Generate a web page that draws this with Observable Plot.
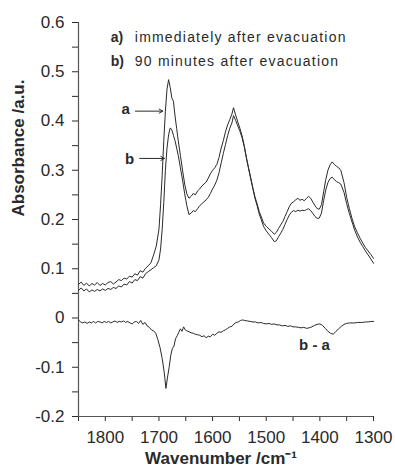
<!DOCTYPE html>
<html><head><meta charset="utf-8">
<script src="https://cdn.jsdelivr.net/npm/d3@7"></script>
<script src="https://cdn.jsdelivr.net/npm/@observablehq/plot@0.6"></script>
<style>
body{margin:0;background:#fff;}
#chart{width:395px;height:471px;}
</style></head><body><div id="chart"></div>
<script>
// Wavenumber grid for spectra a and b (cm^-1)
const wn = [
 1850,1845,1840,1835,1830,1825,1820,1815,1810,1805,1800,1795,1790,1785,1780,1775,1770,1765,1760,1755,1750,1745,1740,1735,1730,1725,1720,1715,1710,1705,1700,
 1697,1694,1691,1688,1685,1682,1679,1676,1673,1670,1667,1664,
 1660,1656,1652,1648,1644,1640,1636,1632,1628,1624,1620,1616,1612,1608,1604,1600,1596,1592,1588,1584,1580,1576,1572,1568,1564,
 1561,1557,1553,1549,1545,1541,1537,1533,1529,1525,1521,1517,1513,1509,1505,
 1500,1495,1490,1485,
 1481,1477,1473,1469,1465,1461,1457,1453,1449,1445,1441,1437,1433,1429,1425,1421,1417,1413,1409,1405,1401,1397,1393,1389,1385,1381,1377,1373,1369,1365,
 1361,1355,1350,1345,1340,1335,1330,1325,1320,1315,1310,1305,1300
];
// a) immediately after evacuation
const specA = [
 0.068,0.073,0.066,0.071,0.065,0.070,0.067,0.072,0.066,0.070,0.067,0.072,0.074,0.069,0.073,0.078,0.076,0.081,0.079,0.085,0.083,0.090,0.087,0.096,0.093,0.101,0.106,0.112,0.128,0.146,0.180,
 0.230,0.290,0.360,0.420,0.465,0.484,0.468,0.447,0.440,0.410,0.385,0.360,
 0.330,0.300,0.272,0.252,0.243,0.247,0.253,0.250,0.258,0.262,0.268,0.272,0.276,0.284,0.293,0.300,0.305,0.312,0.326,0.345,0.360,0.378,0.392,0.403,0.414,
 0.427,0.412,0.398,0.385,0.370,0.350,0.326,0.305,0.285,0.265,0.246,0.232,0.216,0.205,0.193,
 0.186,0.181,0.176,0.170,
 0.174,0.182,0.189,0.196,0.206,0.216,0.226,0.233,0.236,0.240,0.243,0.239,0.241,0.238,0.243,0.247,0.243,0.235,0.228,0.222,0.221,0.230,0.256,0.281,0.300,0.311,0.317,0.312,0.308,0.305,
 0.300,0.275,0.245,0.222,0.202,0.185,0.173,0.162,0.152,0.143,0.136,0.129,0.121
];
// b) 90 minutes after evacuation
const specB = [
 0.056,0.061,0.055,0.059,0.053,0.057,0.054,0.058,0.055,0.059,0.056,0.060,0.058,0.062,0.060,0.065,0.063,0.069,0.067,0.074,0.071,0.078,0.076,0.084,0.081,0.090,0.094,0.098,0.102,0.106,0.118,
 0.140,0.180,0.235,0.300,0.345,0.372,0.386,0.382,0.371,0.360,0.345,0.330,
 0.305,0.280,0.252,0.228,0.210,0.213,0.218,0.216,0.222,0.228,0.232,0.236,0.240,0.245,0.253,0.262,0.270,0.280,0.295,0.315,0.334,0.352,0.370,0.385,0.396,
 0.411,0.401,0.390,0.379,0.366,0.348,0.325,0.304,0.283,0.263,0.243,0.228,0.211,0.199,0.186,
 0.177,0.170,0.163,0.155,
 0.157,0.165,0.172,0.180,0.190,0.200,0.209,0.215,0.218,0.216,0.219,0.217,0.219,0.218,0.220,0.222,0.218,0.212,0.206,0.202,0.203,0.213,0.238,0.260,0.275,0.283,0.286,0.281,0.277,0.275,
 0.272,0.255,0.232,0.212,0.195,0.178,0.165,0.154,0.145,0.136,0.128,0.120,0.111
];
// difference spectrum b - a
const wnDiff = [
 1850,1846,1842,1838,1834,1830,1826,1822,1818,1814,1810,1806,1802,1798,1794,1790,1786,1782,1778,1774,1770,1766,1762,1758,1754,1750,1746,1742,1738,1734,1730,1726,1722,1718,1714,1710,1706,1702,
 1698,1694,1690,1687,1684,1681,1678,1675,1672,1669,1666,1663,1660,1657,1654,1651,1648,
 1644,1640,1636,1632,1628,1624,1620,1616,1612,1608,1604,1600,1596,1592,1588,1584,1580,1576,1572,1568,1564,1560,1556,1552,1548,1544,
 1540,1535,1530,1525,1520,1515,1510,1505,1500,1495,1490,1485,1480,1475,1470,1465,1460,1455,1450,1445,1440,1435,1430,1425,1420,1415,1410,1405,1400,1395,1390,1385,1380,1375,1370,1365,1360,1355,1350,1345,1340,1335,1330,1325,1320,1315,1310,1305,1300
];
const diffBA = [
 -0.004,-0.008,-0.010,-0.008,-0.011,-0.008,-0.010,-0.007,-0.010,-0.007,-0.008,-0.010,-0.007,-0.009,-0.007,-0.010,-0.008,-0.006,-0.009,-0.007,-0.008,-0.006,-0.009,-0.007,-0.010,-0.012,-0.008,-0.007,-0.011,-0.005,-0.013,-0.009,-0.016,-0.019,-0.024,-0.026,-0.031,-0.044,
 -0.060,-0.082,-0.112,-0.143,-0.120,-0.100,-0.076,-0.062,-0.057,-0.042,-0.036,-0.029,-0.022,-0.027,-0.018,-0.024,-0.026,
 -0.028,-0.030,-0.031,-0.033,-0.034,-0.035,-0.038,-0.036,-0.040,-0.037,-0.038,-0.033,-0.035,-0.031,-0.028,-0.029,-0.026,-0.024,-0.021,-0.018,-0.017,-0.012,-0.009,-0.008,-0.005,-0.004,
 -0.005,-0.006,-0.007,-0.008,-0.008,-0.010,-0.009,-0.011,-0.012,-0.011,-0.013,-0.012,-0.014,-0.014,-0.016,-0.015,-0.017,-0.016,-0.018,-0.018,-0.019,-0.020,-0.019,-0.021,-0.020,-0.018,-0.015,-0.013,-0.012,-0.015,-0.021,-0.027,-0.031,-0.033,-0.027,-0.022,-0.017,-0.013,-0.011,-0.010,-0.010,-0.010,-0.009,-0.009,-0.009,-0.008,-0.008,-0.007,-0.007
];
// axis ticks
const xTicks = [1850,1800,1750,1700,1650,1600,1550,1500,1450,1400,1350,1300];
const xTickLabels = [1800,1700,1600,1500,1400,1300];
const yTicks = [-0.2,-0.15,-0.1,-0.05,0,0.05,0.1,0.15,0.2,0.25,0.3,0.35,0.4,0.45,0.5,0.55,0.6];
const yTickLabels = [-0.2,-0.1,0,0.1,0.2,0.3,0.4,0.5,0.6];
// legend and annotations
const legendKeys = ["a)", "b)"];
const legendTexts = ["immediately after evacuation", "90 minutes after evacuation"];
const legendY = [0.570, 0.520];
const curveLabels = [
  {label: "a", w: 1762, v: 0.425},
  {label: "b", w: 1755, v: 0.322},
  {label: "b - a", w: 1410, v: -0.056}
];
const arrows = [
  {w1: 1744, w2: 1693, v: 0.420},
  {w1: 1736, w2: 1690, v: 0.324}
];

const rowsA = wn.map((w, i) => ({w, v: specA[i]}));
const rowsB = wn.map((w, i) => ({w, v: specB[i]}));
const rowsD = wnDiff.map((w, i) => ({w, v: diffBA[i]}));
const legendRows = legendKeys.map((k, i) => ({k, t: legendTexts[i], v: legendY[i]}));

const ink = "#2a2a2a";
const fam = "'Liberation Sans', Arial, Helvetica, sans-serif";

const chart = Plot.plot({
  width: 395, height: 471,
  marginLeft: 78, marginRight: 22, marginTop: 22, marginBottom: 55,
  style: {fontFamily: fam, background: "#fff", color: ink},
  x: {domain: [1850, 1300]},
  y: {domain: [-0.2, 0.6]},
  marks: [
    Plot.axisX({ticks: xTicks, tickSize: 5, tickPadding: 9, fontSize: 17, label: null,
      tickFormat: d => xTickLabels.includes(d) ? String(d) : ""}),
    Plot.axisY({ticks: yTicks, tickSize: 6, tickPadding: 8, fontSize: 17, label: null,
      tickFormat: d => yTickLabels.some(t => Math.abs(t - d) < 1e-9) ? (Math.abs(d) < 1e-9 ? "0" : d.toFixed(1)) : ""}),
    Plot.ruleX([1850], {stroke: "#555", strokeWidth: 1.2}),
    Plot.ruleY([-0.2], {stroke: "#555", strokeWidth: 1.2}),
    Plot.line(rowsA, {x: "w", y: "v", stroke: ink, strokeWidth: 1}),
    Plot.line(rowsB, {x: "w", y: "v", stroke: ink, strokeWidth: 1}),
    Plot.line(rowsD, {x: "w", y: "v", stroke: ink, strokeWidth: 1}),
    Plot.arrow(arrows, {x1: "w1", x2: "w2", y1: "v", y2: "v", stroke: ink, strokeWidth: 1, headLength: 6}),
    Plot.text(curveLabels, {x: "w", y: "v", text: "label", fontSize: 15, fontWeight: "bold", fill: ink}),
    Plot.text(legendRows, {x: () => 1790, y: "v", text: "k", textAnchor: "start", fontSize: 14, fontWeight: "bold", fill: ink}),
    Plot.text(legendRows, {x: () => 1745, y: "v", text: "t", textAnchor: "start", fontSize: 14, fill: ink}),
    Plot.text(["Absorbance /a.u."], {text: d => d, frameAnchor: "left", dx: -60, dy: -3, rotate: -90, fontSize: 17, fontWeight: "bold", fill: ink}),
    Plot.text(["Wavenumber /cm\u207B\u00B9"], {text: d => d, frameAnchor: "bottom", dx: -5, dy: 47, fontSize: 17, fontWeight: "bold", fill: ink})
  ]
});
chart.querySelectorAll("text").forEach(t => {
  if (legendTexts.includes(t.textContent)) t.style.letterSpacing = "1.2px";
});
document.getElementById("chart").appendChild(chart);
</script>
</body></html>
